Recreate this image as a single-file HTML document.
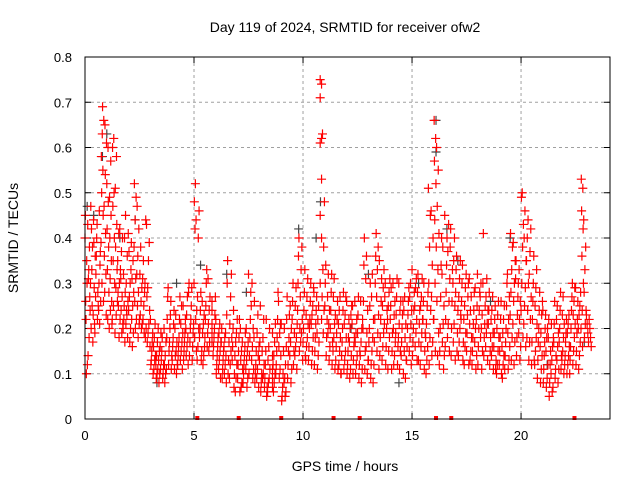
<!DOCTYPE html>
<html><head><meta charset="utf-8"><style>
body{margin:0;background:#fff;}
svg{display:block;font-family:"Liberation Sans",sans-serif;}
</style></head><body>
<svg id="chart" width="640" height="480" xmlns="http://www.w3.org/2000/svg">
<rect width="640" height="480" fill="#fff"/>
<text x="345" y="32" text-anchor="middle" font-size="14">Day 119 of 2024, SRMTID for receiver ofw2</text>
<text x="345" y="471" text-anchor="middle" font-size="14">GPS time / hours</text>
<text x="18" y="238" text-anchor="middle" font-size="14" transform="rotate(-90 18 238)">SRMTID / TECUs</text>
<g id="grid"></g><g id="ticks"></g><g id="gray"></g><g id="red"></g>
<rect x="85" y="57" width="525" height="362" fill="none" stroke="#000" stroke-width="1"/>
</svg>
<script>
const xTicks=[0,5,10,15,20];
const yTicks=[0,0.1,0.2,0.3,0.4,0.5,0.6,0.7,0.8];
const yTickLabels=["0","0.1","0.2","0.3","0.4","0.5","0.6","0.7","0.8"];
const redHours=[0,0.25,0.5,0.75,1,1.25,1.5,1.75,2,2.25,2.5,2.75,3,3.25,3.5,3.75,4,4.25,4.5,4.75,5,5.25,5.5,5.75,6,6.25,6.5,6.75,7,7.25,7.5,7.75,8,8.25,8.5,8.75,9,9.25,9.5,9.75,10,10.25,10.5,10.75,11,11.25,11.5,11.75,12,12.25,12.5,12.75,13,13.25,13.5,13.75,14,14.25,14.5,14.75,15,15.25,15.5,15.75,16,16.25,16.5,16.75,17,17.25,17.5,17.75,18,18.25,18.5,18.75,19,19.25,19.5,19.75,20,20.25,20.5,20.75,21,21.25,21.5,21.75,22,22.25,22.5,22.75,23];
const redValues=[
[.40,.35,.26,.12,.10,.45,.30,.22],[.47,.38,.42,.30,.25,.20,.17,.33],[.40,.32,.28,.43,.36,.25,.22],[.63,.66,.69,.58,.55,.50,.45,.30,.26],
[.60,.52,.48,.42,.38,.33,.28,.22,.20],[.62,.60,.50,.47,.40,.35,.30,.25,.22],[.42,.41,.35,.30,.25,.22,.18,.28],[.45,.40,.32,.28,.25,.20,.17,.22],
[.37,.33,.30,.27,.24,.20,.17],[.52,.49,.44,.38,.31,.26,.22,.20],[.38,.32,.29,.26,.23,.22,.20],[.43,.44,.30,.27,.20,.18,.17],
[.22,.19,.17,.15,.13,.12],[.20,.17,.14,.12,.11,.10,.09],[.18,.15,.13,.12,.10,.09],[.29,.27,.22,.18,.15,.12],
[.24,.21,.18,.16,.13,.11],[.27,.22,.18,.16,.14,.12],[.25,.22,.19,.17,.15,.13],[.30,.28,.22,.20,.17,.14],
[.52,.48,.44,.42,.30,.22,.18,.15],[.28,.24,.20,.18,.15,.13],[.33,.30,.25,.22,.18,.16],[.26,.24,.21,.19,.17],
[.22,.18,.16,.14,.12,.10],[.20,.17,.15,.13,.11,.09],[.35,.30,.23,.17,.13,.10],[.24,.20,.16,.13,.10,.07],
[.22,.18,.15,.12,.09,.06],[.19,.16,.14,.12,.10,.08],[.32,.28,.22,.18,.14,.10],[.26,.18,.15,.12,.10,.08],
[.25,.17,.13,.10,.08,.06],[.22,.15,.12,.09,.07,.05],[.19,.14,.11,.09,.07],[.28,.22,.18,.15,.12,.10],
[.21,.15,.10,.07,.05,.04],[.27,.22,.18,.15,.12,.09],[.30,.26,.22,.19,.15,.12],[.40,.36,.30,.24,.20,.15],
[.33,.28,.24,.20,.17,.14],[.30,.26,.22,.20,.16,.13],[.28,.24,.21,.18,.15,.12],[.75,.74,.71,.62,.61,.53,.45,.40,.30,.22],
[.34,.30,.25,.22,.18,.14],[.32,.28,.24,.20,.17,.12],[.26,.22,.19,.16,.13,.11],[.28,.24,.20,.17,.14,.10],
[.26,.22,.18,.15,.12,.10],[.25,.21,.18,.16,.13,.10],[.27,.23,.19,.15,.12,.09],[.40,.34,.26,.20,.15,.11],
[.30,.25,.20,.17,.13,.09],[.41,.36,.30,.22,.17,.12],[.35,.31,.26,.22,.18,.14],[.30,.27,.24,.20,.16,.12],
[.29,.25,.22,.19,.15,.11],[.31,.27,.23,.19,.16,.12],[.26,.23,.20,.17,.14,.10],[.29,.26,.23,.20,.16,.13],
[.33,.28,.24,.20,.17,.14],[.32,.28,.24,.21,.17,.13],[.30,.26,.22,.19,.15,.11],[.51,.45,.38,.30,.24,.18,.12],
[.66,.62,.57,.52,.44,.38,.30,.22,.15],[.40,.34,.27,.20,.15,.12],[.45,.40,.34,.28,.22,.16],[.42,.38,.33,.26,.20,.14],
[.36,.33,.28,.24,.19,.15],[.34,.30,.26,.22,.17,.13],[.30,.27,.23,.19,.15,.12],[.28,.24,.21,.18,.15,.12],
[.32,.28,.24,.20,.16,.12],[.41,.30,.25,.21,.18,.14],[.28,.24,.21,.18,.15,.12],[.25,.22,.19,.16,.13,.11],
[.26,.22,.18,.15,.12,.10],[.30,.25,.20,.17,.14,.11],[.41,.38,.33,.28,.23,.18,.13],[.35,.31,.27,.23,.18,.14],
[.50,.49,.43,.38,.30,.24,.18],[.44,.40,.35,.30,.24,.18,.13],[.36,.30,.26,.22,.17,.13],[.28,.24,.20,.17,.13,.09],
[.24,.20,.17,.14,.11,.08],[.22,.18,.15,.12,.08,.05],[.26,.21,.17,.14,.11,.09],[.28,.24,.20,.17,.14,.11],
[.22,.19,.17,.14,.12,.10],[.30,.27,.24,.20,.16,.13],[.29,.26,.22,.19,.15,.12],[.53,.51,.46,.42,.36,.30,.24,.20,.16],
[.23,.21,.19,.17]];
const redValuesB=[
[.43,.38,.31,.24,.18,.14,.27,.33],[.44,.36,.29,.23,.19,.39,.27,.21],[.46,.39,.34,.30,.26,.21,.24,.37],[.65,.61,.54,.47,.41,.36,.32,.28,.23],
[.57,.49,.45,.40,.35,.31,.26,.24,.21],[.58,.51,.43,.38,.33,.29,.26,.23,.19],[.40,.37,.33,.27,.24,.21,.19,.31],[.41,.36,.30,.26,.23,.21,.18,.24],
[.39,.35,.31,.28,.25,.22,.19,.16],[.47,.42,.36,.32,.28,.25,.21,.18],[.35,.31,.28,.25,.22,.21,.19],[.39,.35,.29,.24,.21,.19,.16],
[.21,.18,.16,.14,.13,.11,.10],[.19,.16,.15,.13,.11,.10,.08],[.20,.17,.14,.12,.11,.10,.08],[.26,.23,.20,.17,.14,.11],
[.23,.20,.17,.15,.14,.12,.10],[.25,.21,.19,.17,.15,.13,.11],[.27,.23,.20,.18,.16,.14,.12],[.29,.25,.21,.19,.16,.13],
[.46,.40,.27,.24,.20,.16,.13],[.26,.23,.21,.19,.16,.14,.12],[.31,.27,.24,.21,.19,.17,.15],[.27,.23,.20,.18,.16,.14],
[.21,.19,.17,.15,.13,.11,.09],[.19,.18,.16,.14,.12,.10,.08],[.32,.27,.21,.18,.15,.12,.09],[.22,.19,.17,.14,.12,.09,.06],
[.20,.17,.15,.13,.11,.08,.07],[.20,.17,.15,.13,.11,.09,.07],[.30,.25,.20,.16,.13,.11,.09],[.23,.19,.16,.14,.11,.09,.07],
[.22,.18,.15,.12,.10,.09,.07],[.20,.16,.13,.11,.09,.08,.06],[.21,.17,.14,.12,.10,.08,.06],[.26,.21,.19,.16,.14,.11,.09],
[.20,.16,.12,.09,.08,.06,.05],[.25,.23,.20,.17,.14,.11,.08],[.29,.25,.21,.18,.16,.14,.11],[.38,.33,.27,.22,.19,.17,.13],
[.31,.27,.23,.21,.18,.16,.13],[.29,.25,.23,.21,.18,.15,.12],[.27,.25,.22,.19,.17,.14,.11],[.63,.48,.38,.33,.27,.24,.19],
[.32,.27,.24,.21,.19,.16,.13],[.31,.27,.23,.21,.18,.15,.11],[.27,.24,.21,.18,.15,.12,.10],[.27,.23,.21,.18,.15,.13,.11],
[.25,.23,.20,.17,.14,.11,.09],[.26,.22,.19,.17,.14,.12,.10],[.26,.22,.20,.17,.14,.11,.08],[.36,.31,.24,.19,.16,.13,.10],
[.32,.27,.22,.18,.15,.12,.08],[.38,.33,.27,.23,.19,.15,.11],[.33,.29,.25,.21,.19,.16,.13],[.31,.28,.25,.22,.18,.15,.11],
[.30,.26,.23,.20,.17,.14,.12],[.30,.26,.24,.21,.18,.15,.11],[.27,.24,.21,.18,.15,.13,.09],[.30,.27,.24,.21,.18,.15,.12],
[.31,.29,.25,.22,.19,.16,.13],[.31,.27,.25,.22,.19,.16,.12],[.28,.25,.21,.18,.16,.13,.10],[.46,.40,.34,.27,.22,.17,.14],
[.60,.55,.47,.41,.33,.26,.19,.14],[.38,.32,.25,.21,.17,.14,.11],[.43,.37,.31,.26,.21,.18,.15],[.40,.35,.30,.25,.21,.17,.13],
[.35,.31,.27,.23,.20,.17,.14],[.32,.29,.25,.22,.19,.16,.12],[.31,.27,.24,.21,.18,.15,.13],[.29,.25,.22,.20,.17,.14,.11],
[.30,.27,.23,.20,.18,.15,.11],[.31,.27,.24,.21,.19,.16,.13],[.27,.24,.22,.19,.16,.14,.11],[.26,.23,.20,.18,.15,.12,.10],
[.25,.22,.19,.16,.14,.12,.09],[.32,.27,.22,.19,.16,.13,.11],[.39,.35,.30,.26,.21,.17,.12],[.33,.30,.26,.22,.19,.16,.13],
[.46,.40,.35,.29,.25,.21,.16],[.42,.37,.32,.27,.22,.17,.12],[.33,.29,.25,.21,.18,.15,.12],[.26,.23,.19,.16,.14,.11,.08],
[.23,.20,.18,.15,.12,.09,.07],[.21,.18,.16,.13,.10,.07,.06],[.25,.22,.19,.16,.13,.11,.08],[.27,.23,.21,.18,.15,.13,.10],
[.23,.21,.19,.16,.14,.12,.10],[.29,.26,.23,.21,.18,.15,.12],[.28,.25,.23,.20,.17,.14,.11],[.44,.38,.33,.28,.24,.21,.18],
[.22,.20,.18,.16]];
const grayHours=[0.1,0.4,0.8,1.0,1.6,2.3,3.3,4.2,5.3,6.5,7.4,9.8,10.6,10.8,12.2,13.0,14.4,15.3,16.1,16.1,16.6,17.1,18.6,19.5,21.2,22.9];
const grayValues=[.47,.45,.58,.63,.40,.44,.08,.30,.34,.32,.28,.42,.40,.48,.20,.32,.08,.30,.66,.59,.42,.35,.26,.40,.12,.17];
const zeroHours=[5.15,7.05,9.0,11.4,12.6,16.1,16.8,22.45];

const X0=85,X1=610,Y0=419,Y1=57,XMAX=24.08,YMAX=0.8;
const xs=h=>X0+h/XMAX*(X1-X0);
const ys=v=>Y0-v/YMAX*(Y0-Y1);
const NS="http://www.w3.org/2000/svg";
function mk(tag,attrs,parent){const e=document.createElementNS(NS,tag);for(const k in attrs)e.setAttribute(k,attrs[k]);parent.appendChild(e);return e;}
const grid=document.getElementById('grid'),ticks=document.getElementById('ticks');
xTicks.forEach(t=>{
  const x=xs(t);
  if(t>0){const g=mk('line',{x1:x,x2:x,y1:Y1,y2:Y0,stroke:'#a0a0a0','stroke-dasharray':'3,3'},grid);
  
  }
  mk('line',{x1:x,x2:x,y1:Y0,y2:Y0-6,stroke:'#000'},ticks);
  mk('line',{x1:x,x2:x,y1:Y1,y2:Y1+6,stroke:'#000'},ticks);
  const l=mk('text',{x:x,y:Y0+21,'text-anchor':'middle','font-size':13},ticks);l.textContent=t;
  
  
});
yTicks.forEach((t,i)=>{
  const y=ys(t);
  if(t>0&&t<0.8){const g=mk('line',{x1:X0,x2:X1,y1:y,y2:y,stroke:'#a0a0a0','stroke-dasharray':'3,3'},grid);
  
  }
  mk('line',{x1:X0,x2:X0+6,y1:y,y2:y,stroke:'#000'},ticks);
  mk('line',{x1:X1,x2:X1-6,y1:y,y2:y,stroke:'#000'},ticks);
  const l=mk('text',{x:X0-13,y:y+5,'text-anchor':'end','font-size':13},ticks);l.textContent=yTickLabels[i];
  
  
});
function plus(g,h,v,c){
  const x=xs(h),y=ys(v);
  const p=mk('path',{d:`M${x-4.5},${y}h9M${x},${y-4.5}v9`,stroke:c,'stroke-width':1.2,fill:'none'},g);
  
  
}
const gG=document.getElementById('gray'),gR=document.getElementById('red');
grayHours.forEach((h,i)=>plus(gG,h,grayValues[i],'#444'));
function drawSet(vals,shift){
  redHours.forEach((h,i)=>{const vs=vals[i];const n=vs.length;
    vs.forEach((v,j)=>plus(gR,h+shift+(((j*5+i)%n)/n)*0.125,v,'#f00'));});
}
drawSet(redValues,0);
drawSet(redValuesB,0.125);
zeroHours.forEach(h=>{const r=mk('rect',{x:xs(h)-2,y:Y0-3,width:4,height:4,fill:'#f00'},gR);
  
  });
</script>
</body></html>
